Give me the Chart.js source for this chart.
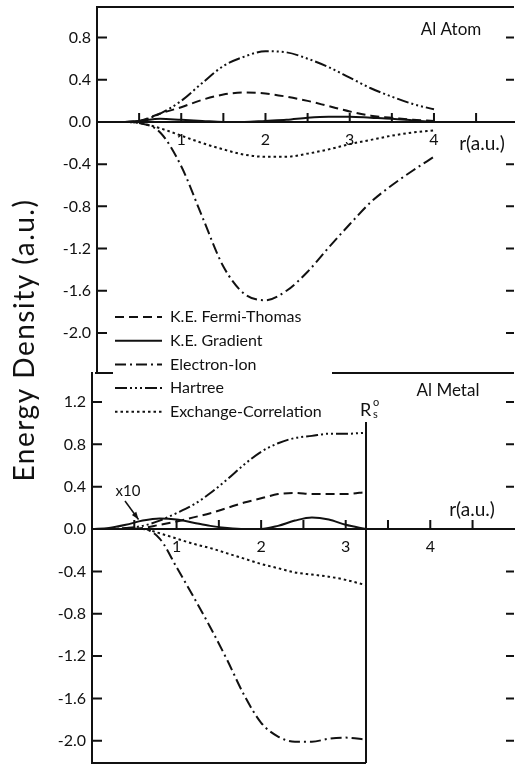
<!DOCTYPE html>
<html>
<head>
<meta charset="utf-8">
<script src="https://cdn.jsdelivr.net/npm/chart.js@4.4.1/dist/chart.umd.min.js"></script>
<style>
  html, body { margin:0; padding:0; background:#fff; overflow:hidden; }
  #wrap { position:relative; width:515px; height:765px; }
  canvas { position:absolute; left:0; top:0; }
</style>
</head>
<body>
<div id="wrap">
  <canvas id="atom" width="515" height="765"></canvas>
  <canvas id="metal" width="515" height="765"></canvas>
</div>
<script>
Chart.defaults.font.family = "Lato, 'DejaVu Sans', sans-serif";
Chart.defaults.color = '#111';

// series names, in legend order
const labels = ['K.E. Fermi-Thomas','K.E. Gradient','Electron-Ion','Hartree','Exchange-Correlation'];

// Al atom (upper panel)
const rAtom       = [0, 0.3, 0.5, 0.75, 1.0, 1.25, 1.5, 1.75, 2.0, 2.25, 2.5, 2.75, 3.0, 3.25, 3.5, 3.75, 4.0];
const ftAtom      = [0, 0, 0.01, 0.08, 0.14, 0.21, 0.26, 0.28, 0.27, 0.24, 0.20, 0.15, 0.10, 0.06, 0.04, 0.02, 0.01];
const gradAtom    = [0, 0, 0.01, 0.03, 0.02, 0.01, 0, 0, 0.01, 0.02, 0.04, 0.05, 0.05, 0.04, 0.03, 0.015, 0];
const eiAtom      = [0, 0, -0.01, -0.10, -0.42, -0.90, -1.37, -1.63, -1.69, -1.60, -1.42, -1.19, -0.97, -0.76, -0.60, -0.46, -0.33];
const hartreeAtom = [0, 0, 0.01, 0.08, 0.20, 0.37, 0.53, 0.62, 0.67, 0.66, 0.60, 0.52, 0.42, 0.32, 0.24, 0.17, 0.12];
const xcAtom      = [0, 0, -0.01, -0.06, -0.13, -0.20, -0.26, -0.31, -0.33, -0.33, -0.30, -0.26, -0.21, -0.17, -0.13, -0.10, -0.08];

// Al metal (lower panel), curves stop at the Wigner-Seitz radius
const rMetal       = [0, 0.2, 0.4, 0.6, 0.8, 1.0, 1.2, 1.4, 1.6, 1.8, 2.0, 2.2, 2.4, 2.6, 2.8, 3.0, 3.24];
const ftMetal      = [0, 0, 0, 0.01, 0.04, 0.07, 0.11, 0.15, 0.20, 0.25, 0.29, 0.33, 0.34, 0.33, 0.33, 0.33, 0.35];
const gradMetal    = [0, 0.01, 0.04, 0.08, 0.10, 0.09, 0.06, 0.03, 0.01, 0, 0, 0.03, 0.08, 0.11, 0.09, 0.04, 0];
const eiMetal      = [0, 0, 0, 0, -0.09, -0.36, -0.64, -0.93, -1.24, -1.57, -1.83, -1.96, -2.01, -2.01, -1.98, -1.97, -1.99];
const hartreeMetal = [0, 0, 0.01, 0.03, 0.08, 0.15, 0.23, 0.34, 0.47, 0.61, 0.73, 0.81, 0.86, 0.88, 0.90, 0.90, 0.91];
const xcMetal      = [0, 0, 0, 0, -0.04, -0.09, -0.14, -0.18, -0.23, -0.28, -0.33, -0.37, -0.41, -0.43, -0.45, -0.48, -0.53];
const rsR = 3.24, rsTop = 1.01;

// axis ticks
const yTicksAtom  = [0.8, 0.4, 0, -0.4, -0.8, -1.2, -1.6, -2.0];
const yTicksMetal = [1.2, 0.8, 0.4, 0, -0.4, -0.8, -1.2, -1.6, -2.0];
const rTicks  = [0.5, 1, 1.5, 2, 2.5, 3, 3.5, 4, 4.5];
const rLabels = [1, 2, 3, 4];

const ink = '#111';
const dashes = [[9,5], [], [11,4,2,4], [12,3,2,3,2,3,2,3], [2.5,3]];

const pts = (r, v) => r.map((x, i) => ({x, y: v[i]}));
const curves = (r, series) => series.map((v, i) => ({
  label: labels[i], data: pts(r, v),
  borderColor: ink, borderWidth: 2, borderDash: dashes[i],
  pointRadius: 0, cubicInterpolationMode: 'monotone', fill: false
}));

function scalesFor(yMin, yMax, yTicks, leftW, xMax) {
  return {
    x: {
      type: 'linear', min: 0, max: xMax, position: {y: 0},
      afterBuildTicks: s => { s.ticks = rTicks.map(v => ({value: v})); },
      afterFit: s => { s.paddingLeft = 0; s.paddingRight = 0; },
      grid: {display: false, drawTicks: false},
      border: {display: true, color: ink, width: 2},
      ticks: {autoSkip: false, maxRotation: 0, padding: 8, font: {size: 16},
              callback: v => rLabels.includes(v) ? String(v) : ''}
    },
    y: {
      type: 'linear', min: yMin, max: yMax, position: 'left',
      afterBuildTicks: s => { s.ticks = yTicks.map(v => ({value: v})); },
      afterFit: s => { s.width = leftW; s.paddingTop = 0; s.paddingBottom = 0; },
      grid: {display: false, drawTicks: false},
      border: {display: true, color: ink, width: 2},
      ticks: {padding: 6, font: {size: 16}, callback: v => v.toFixed(1)}
    }
  };
}

// inward tick marks and the panel frame lines
const frame = {
  id: 'frame',
  afterDraw(chart, args, o) {
    const {ctx, chartArea: a, scales: {x, y}} = chart;
    ctx.save();
    ctx.strokeStyle = ink; ctx.lineWidth = 2;
    ctx.beginPath();
    y.ticks.forEach(t => {
      const py = y.getPixelForValue(t.value);
      ctx.moveTo(a.left, py); ctx.lineTo(a.left + 10, py);
      ctx.moveTo(a.right, py); ctx.lineTo(a.right - 8, py);
    });
    const y0 = y.getPixelForValue(0);
    x.ticks.forEach(t => {
      const px = x.getPixelForValue(t.value);
      ctx.moveTo(px, y0); ctx.lineTo(px, y0 - 9);
    });
    if (o.top) { ctx.moveTo(a.left, a.top); ctx.lineTo(a.right, a.top); }
    if (o.split) {
      ctx.moveTo(a.left - 2, a.bottom); ctx.lineTo(113, a.bottom);
      ctx.moveTo(332, a.bottom); ctx.lineTo(a.right, a.bottom);
    }
    if (o.bottomTo) { ctx.moveTo(a.left, a.bottom); ctx.lineTo(x.getPixelForValue(o.bottomTo), a.bottom); }
    ctx.stroke();
    ctx.restore();
  }
};

function text(ctx, s, x, y, size, align) {
  ctx.font = size + "px Lato, 'DejaVu Sans', sans-serif";
  ctx.textAlign = align || 'center';
  ctx.textBaseline = 'middle';
  ctx.fillText(s, x, y);
}

const atomNotes = {
  id: 'atomNotes',
  afterDraw(chart) {
    const ctx = chart.ctx;
    ctx.save(); ctx.fillStyle = ink;
    text(ctx, 'Al Atom', 451, 30, 17);
    text(ctx, 'r(a.u.)', 482, 144, 19);
    ctx.restore();
  }
};

const metalNotes = {
  id: 'metalNotes',
  afterDraw(chart) {
    const {ctx, scales: {x, y}} = chart;
    ctx.save(); ctx.fillStyle = ink; ctx.strokeStyle = ink;
    // shared y title
    ctx.save();
    ctx.translate(25, 340); ctx.rotate(-Math.PI / 2);
    ctx.letterSpacing = '1.5px';
    text(ctx, 'Energy Density (a.u.)', 0, 0, 28);
    ctx.restore();
    text(ctx, 'Al Metal', 448, 391, 17);
    text(ctx, 'r(a.u.)', 472, 510, 19);
    // R_s^o label above the cell boundary
    text(ctx, 'R', 360, 410, 18, 'left');
    text(ctx, 'o', 373, 402, 11, 'left');
    text(ctx, 's', 373, 414, 11, 'left');
    // x10 marker on the gradient curve
    text(ctx, 'x10', 128, 491, 15);
    const tx = x.getPixelForValue(0.55), ty = y.getPixelForValue(0.09);
    ctx.lineWidth = 1.5;
    ctx.beginPath(); ctx.moveTo(125, 501); ctx.lineTo(tx, ty); ctx.stroke();
    const ang = Math.atan2(ty - 501, tx - 125);
    ctx.beginPath();
    ctx.moveTo(tx, ty);
    ctx.lineTo(tx - 8 * Math.cos(ang - 0.35), ty - 8 * Math.sin(ang - 0.35));
    ctx.lineTo(tx - 8 * Math.cos(ang + 0.35), ty - 8 * Math.sin(ang + 0.35));
    ctx.closePath(); ctx.fill();
    // legend
    const sets = chart.data.datasets.filter(d => labels.includes(d.label));
    sets.forEach((d, i) => {
      const ly = 317 + i * 23.7;
      ctx.lineWidth = 2;
      ctx.setLineDash(d.borderDash);
      ctx.beginPath(); ctx.moveTo(115, ly); ctx.lineTo(162, ly); ctx.stroke();
      ctx.setLineDash([]);
      text(ctx, d.label, 170, ly, 16, 'left');
    });
    ctx.restore();
  }
};

new Chart(document.getElementById('atom'), {
  type: 'line',
  data: {datasets: curves(rAtom, [ftAtom, gradAtom, eiAtom, hartreeAtom, xcAtom])},
  options: {
    responsive: false, animation: false, events: [],
    layout: {padding: {top: 7, bottom: 392, left: 0, right: 1}},
    plugins: {legend: {display: false}, tooltip: {enabled: false},
              frame: {top: true, split: true}},
    scales: scalesFor(-2.38, 1.09, yTicksAtom, 97, 4.95)
  },
  plugins: [frame, atomNotes]
});

const metalSets = curves(rMetal, [ftMetal, gradMetal, eiMetal, hartreeMetal, xcMetal]);
metalSets.push({
  label: 'Rs', data: [{x: rsR, y: rsTop}, {x: rsR, y: -2.21}],
  borderColor: ink, borderWidth: 2, pointRadius: 0
});

new Chart(document.getElementById('metal'), {
  type: 'line',
  data: {datasets: metalSets},
  options: {
    responsive: false, animation: false, events: [],
    layout: {padding: {top: 373, bottom: 2, left: 0, right: 1}},
    plugins: {legend: {display: false}, tooltip: {enabled: false},
              frame: {bottomTo: rsR}},
    scales: scalesFor(-2.21, 1.474, yTicksMetal, 92, 4.99)
  },
  plugins: [frame, metalNotes]
});
</script>
</body>
</html>
